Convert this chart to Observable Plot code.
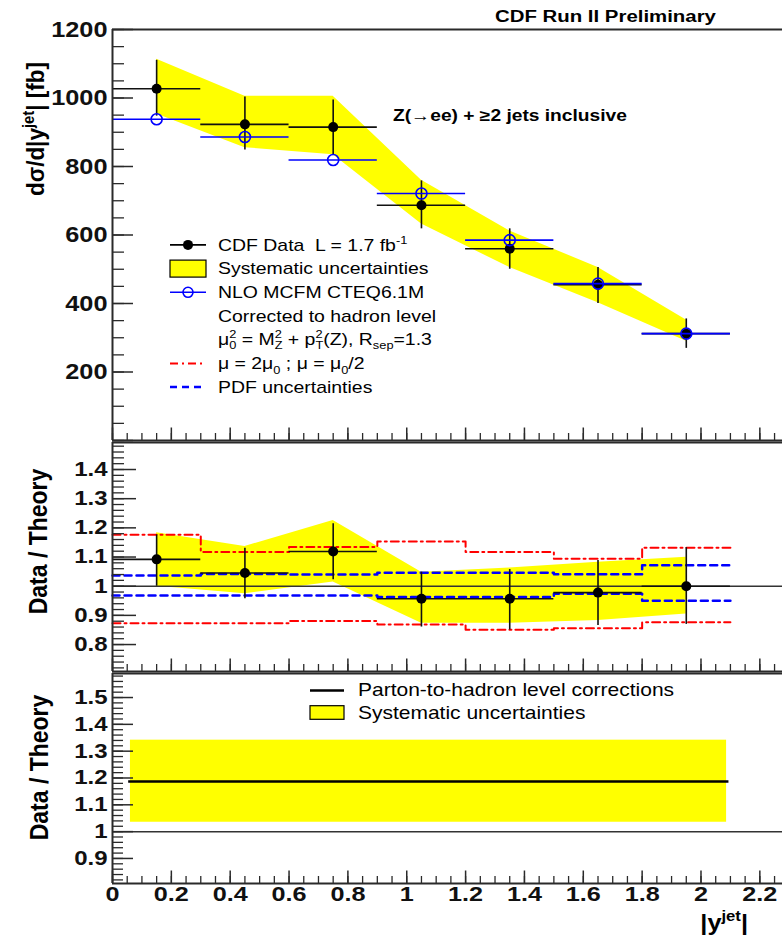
<!DOCTYPE html>
<html>
<head>
<meta charset="utf-8">
<script src="https://cdn.jsdelivr.net/npm/d3@7"></script>
<script src="https://cdn.jsdelivr.net/npm/@observablehq/plot@0.6"></script>
<style>
  html, body { margin: 0; padding: 0; background: #fff; }
  #chart svg { display: block; }
</style>
</head>
<body>
<div id="chart"></div>
<script>
// ---------------- DATA ----------------
const binEdges = [0, 0.3, 0.6, 0.9, 1.2, 1.5, 1.8, 2.1];
const binCenters = [0.15, 0.45, 0.75, 1.05, 1.35, 1.65, 1.95];

// Top panel: dσ/d|y_jet| [fb]
const cdfData     = [1027, 923, 915, 687, 560, 455, 312];
const cdfErrLow   = [947, 848, 834, 618, 500, 400, 269];
const cdfErrHigh  = [1110, 1003, 994, 758, 618, 505, 355];
const nloMcfm     = [938, 886, 819, 721, 585, 458, 312];
const sysLow      = [953, 855, 834, 632, 505, 402, 290];
const sysHigh     = [1113, 1005, 1005, 760, 612, 505, 352];

// Middle panel: Data / Theory
const ratio        = [1.092, 1.045, 1.119, 0.957, 0.957, 0.978, 1.0];
const ratioErrLow  = [1.0, 0.957, 1.022, 0.86, 0.85, 0.865, 0.869];
const ratioErrHigh = [1.176, 1.13, 1.214, 1.048, 1.057, 1.088, 1.132];
const ratioSysLow  = [1.0, 0.974, 1.014, 0.873, 0.873, 0.882, 0.905];
const ratioSysHigh = [1.183, 1.136, 1.225, 1.048, 1.062, 1.082, 1.099];
const scaleUp   = [1.176, 1.117, 1.134, 1.153, 1.117, 1.094, 1.132];
const scaleDown = [0.873, 0.873, 0.881, 0.869, 0.851, 0.856, 0.876];
const pdfUp     = [1.037, 1.042, 1.040, 1.046, 1.046, 1.041, 1.072];
const pdfDown   = [0.968, 0.968, 0.968, 0.963, 0.963, 0.974, 0.950];

// Bottom panel: parton-to-hadron corrections
const hadronCorr = [1.187];
const hadronCorrRange = [0.055, 2.095];
const hadronSys = [1.035, 1.341];
const hadronSysRange = [0.061, 2.087];

// Ticks
const xDomain = [0, 2.277];
const xMajorTicks = [0, 0.2, 0.4, 0.6, 0.8, 1, 1.2, 1.4, 1.6, 1.8, 2, 2.2];
const xMinorTicks = d3.range(0, 46).map(i => +(i * 0.05).toFixed(2));
const topYDomain = [0, 1200];
const topYMajor = [0, 200, 400, 600, 800, 1000, 1200];
const topYLabels = [200, 400, 600, 800, 1000, 1200];
const topYMinor = d3.range(0, 25).map(i => i * 50);
const midYDomain = [0.7076, 1.4926];
const midYLabels = [0.8, 0.9, 1, 1.1, 1.2, 1.3, 1.4];
const midYMinor = d3.range(36, 75).map(i => +(i * 0.02).toFixed(2));
const botYDomain = [0.8066, 1.5896];
const botYLabels = [0.9, 1, 1.1, 1.2, 1.3, 1.4, 1.5];
const botYMinor = d3.range(41, 80).map(i => +(i * 0.02).toFixed(2));

// ---------------- LAYOUT ----------------
const W = 782, H = 935, ML = 112;
const FW = W - ML;
const AX = "#2a2a2a";
const fmt = d => String(+(+d).toFixed(2));

function inDom(arr, dom) { return arr.filter(v => v >= dom[0] - 1e-9 && v <= dom[1] + 1e-9); }

function frameMarks({yDom, yMajor, yMinor, yLabels, frameH, labelSize, majorLen, minorLen}) {
  return [
    Plot.tickY(inDom(yMinor, yDom), {y: d => d, insetRight: FW - minorLen, stroke: AX, strokeWidth: 1.3}),
    Plot.tickY(inDom(yMajor, yDom), {y: d => d, insetRight: FW - majorLen, stroke: AX, strokeWidth: 1.5}),
    Plot.tickX(inDom(xMinorTicks, xDomain), {x: d => d, insetTop: frameH - 7, stroke: AX, strokeWidth: 1.3}),
    Plot.tickX(xMajorTicks, {x: d => d, insetTop: frameH - 12.5, stroke: AX, strokeWidth: 1.5}),
    Plot.ruleX([0], {stroke: AX, strokeWidth: 2}),
    Plot.ruleY([yDom[0]], {stroke: AX, strokeWidth: 1.8}),
    Plot.ruleY([yDom[1]], {stroke: AX, strokeWidth: 1.8}),
    Plot.axisY({ticks: yLabels, tickSize: 0, tickPadding: 5, tickFormat: fmt, label: null,
                fontSize: labelSize, fontWeight: "bold", fill: "#111"})
  ];
}

// ---------------- TOP PANEL ----------------
const topRows = binCenters.map((c, i) => ({
  c, lo: binEdges[i], hi: binEdges[i + 1],
  data: cdfData[i], eLo: cdfErrLow[i], eHi: cdfErrHigh[i],
  nlo: nloMcfm[i], sLo: sysLow[i], sHi: sysHigh[i]
}));

const p1 = Plot.plot({
  width: W, height: 442, marginLeft: ML, marginRight: 0, marginTop: 29, marginBottom: 2,
  x: {domain: xDomain, axis: null},
  y: {domain: topYDomain, axis: null},
  marks: [
    Plot.areaY(topRows, {x: "c", y1: "sLo", y2: "sHi", fill: "#ffff00"}),
    Plot.ruleY(topRows, {y: "data", x1: "lo", x2: "hi", stroke: "#111", strokeWidth: 1.6}),
    Plot.ruleX(topRows, {x: "c", y1: "eLo", y2: "eHi", stroke: "#111", strokeWidth: 1.6}),
    Plot.dot(topRows, {x: "c", y: "data", r: 5, fill: "#000"}),
    Plot.ruleY(topRows, {y: "nlo", x1: "lo", x2: "hi", stroke: "#0000ff", strokeWidth: 1.6}),
    Plot.dot(topRows, {x: "c", y: "nlo", r: 5.5, stroke: "#0000ff", strokeWidth: 1.6, fill: "none"}),
    ...frameMarks({yDom: topYDomain, yMajor: topYMajor, yMinor: topYMinor, yLabels: topYLabels,
                   frameH: 411, labelSize: 22, majorLen: 21, minorLen: 12})
  ]
});

// ---------------- MIDDLE PANEL ----------------
const midRows = binCenters.map((c, i) => ({
  c, lo: binEdges[i], hi: binEdges[i + 1],
  r: ratio[i], eLo: ratioErrLow[i], eHi: ratioErrHigh[i],
  sLo: ratioSysLow[i], sHi: ratioSysHigh[i]
}));
const stepRows = binEdges.map((x, i) => {
  const k = Math.min(i, binCenters.length - 1);
  return {x, up: scaleUp[k], dn: scaleDown[k], pu: pdfUp[k], pd: pdfDown[k]};
});
const redDash = "8,4,2,4", blueDash = "7,5";

const p2 = Plot.plot({
  width: W, height: 233, marginLeft: ML, marginRight: 0, marginTop: 2, marginBottom: 2,
  x: {domain: xDomain, axis: null},
  y: {domain: midYDomain, axis: null},
  marks: [
    Plot.areaY(midRows, {x: "c", y1: "sLo", y2: "sHi", fill: "#ffff00"}),
    Plot.ruleY([1], {stroke: "#333", strokeWidth: 1.5}),
    Plot.line(stepRows, {x: "x", y: "up", curve: "step-after", stroke: "#ff0000", strokeWidth: 2, strokeDasharray: redDash}),
    Plot.line(stepRows, {x: "x", y: "dn", curve: "step-after", stroke: "#ff0000", strokeWidth: 2, strokeDasharray: redDash}),
    Plot.line(stepRows, {x: "x", y: "pu", curve: "step-after", stroke: "#0000ff", strokeWidth: 2.5, strokeDasharray: blueDash}),
    Plot.line(stepRows, {x: "x", y: "pd", curve: "step-after", stroke: "#0000ff", strokeWidth: 2.5, strokeDasharray: blueDash}),
    Plot.ruleY(midRows, {y: "r", x1: "lo", x2: "hi", stroke: "#111", strokeWidth: 1.6}),
    Plot.ruleX(midRows, {x: "c", y1: "eLo", y2: "eHi", stroke: "#111", strokeWidth: 1.6}),
    Plot.dot(midRows, {x: "c", y: "r", r: 5, fill: "#000"}),
    ...frameMarks({yDom: midYDomain, yMajor: midYLabels, yMinor: midYMinor, yLabels: midYLabels,
                   frameH: 229, labelSize: 20, majorLen: 24, minorLen: 12})
  ]
});

// ---------------- BOTTOM PANEL ----------------
const p3 = Plot.plot({
  width: W, height: 264, marginLeft: ML, marginRight: 0, marginTop: 2, marginBottom: 52,
  x: {domain: xDomain},
  y: {domain: botYDomain, axis: null},
  marks: [
    Plot.rect([{x1: hadronSysRange[0], x2: hadronSysRange[1], y1: hadronSys[0], y2: hadronSys[1]}],
              {x1: "x1", x2: "x2", y1: "y1", y2: "y2", fill: "#ffff00"}),
    Plot.ruleY([1], {stroke: "#333", strokeWidth: 1.5}),
    Plot.ruleY(hadronCorr.map(v => ({v, x1: hadronCorrRange[0], x2: hadronCorrRange[1]})),
               {y: "v", x1: "x1", x2: "x2", stroke: "#000", strokeWidth: 2.5}),
    ...frameMarks({yDom: botYDomain, yMajor: botYLabels, yMinor: botYMinor, yLabels: botYLabels,
                   frameH: 210, labelSize: 20, majorLen: 21, minorLen: 11}),
    Plot.axisX({ticks: xMajorTicks, tickSize: 0, tickPadding: 3, tickFormat: fmt, label: null,
                fontSize: 21, fontWeight: "bold", fill: "#111"})
  ]
});

// ---------------- ASSEMBLE ONE SVG ----------------
const outer = d3.create("svg")
  .attr("width", W).attr("height", H).attr("viewBox", `0 0 ${W} ${H}`)
  .attr("font-family", '"Liberation Sans", Arial, Helvetica, sans-serif')
  .style("background", "#fff");
document.getElementById("chart").appendChild(outer.node());
outer.append("rect").attr("width", W).attr("height", H).attr("fill", "#fff");

function embed(plotSvg, y, sx) {
  plotSvg.querySelectorAll('g[aria-label$="tick label"] text').forEach(t => {
    const tr = t.getAttribute("transform");
    if (tr) t.setAttribute("transform", tr + ` scale(${sx},1)`);
    t.setAttribute("font-weight", "bold");
  });
  const g = document.createElementNS("http://www.w3.org/2000/svg", "g");
  for (const a of ["class", "fill", "font-size", "text-anchor"]) {
    if (plotSvg.getAttribute(a) != null) g.setAttribute(a, plotSvg.getAttribute(a));
  }
  g.setAttribute("transform", `translate(0,${y})`);
  while (plotSvg.firstChild) g.appendChild(plotSvg.firstChild);
  outer.node().appendChild(g);
}
embed(p1, 0, 1.15);
embed(p2, 440, 1.2);
embed(p3, 671, 1.2);

// ---------------- RICH TEXT ----------------
function addText({x, y, size, weight = "normal", anchor = "start", sx = 1.2, rotate = 0, segs, fill = "#000"}) {
  const t = outer.append("text")
    .attr("transform", rotate ? `translate(${x},${y}) rotate(${rotate}) scale(1,${sx})`
                              : `translate(${x},${y}) scale(${sx},1)`)
    .attr("font-size", size).attr("font-weight", weight)
    .attr("text-anchor", anchor).attr("fill", fill);
  let shift = 0, lastSub = null, pendingDx = 0;
  for (const s of segs) {
    const [str, kind] = typeof s === "string" ? [s, "n"] : s;
    const ts = t.append("tspan").text(str);
    let target = 0, fs = size;
    if (kind === "sub") { target = 0.3 * size; fs = 0.66 * size; }
    else if (kind === "sup" || kind === "supStack") { target = -0.42 * size; fs = 0.66 * size; }
    ts.attr("font-size", fs);
    if (target - shift !== 0) ts.attr("dy", +(target - shift).toFixed(2));
    let dx = pendingDx; pendingDx = 0;
    if (kind === "supStack" && lastSub) {
      const subW = lastSub.node().getComputedTextLength();
      dx -= subW;
      const supW = ts.node().getComputedTextLength();
      if (subW > supW) pendingDx = subW - supW;
    }
    if (dx) ts.attr("dx", +dx.toFixed(2));
    lastSub = kind === "sub" ? ts : null;
    shift = target;
  }
  return t;
}

// Titles
addText({x: 495, y: 21.5, size: 17, weight: "bold", segs: ["CDF Run II Preliminary"]});
addText({x: 393, y: 120.5, size: 16, weight: "bold", segs: ["Z(\u2192ee) + \u22652 jets inclusive"]});

// Axis titles
addText({x: 44, y: 129, size: 22.5, weight: "bold", anchor: "middle", rotate: -90, sx: 1.1,
         segs: ["d\u03c3/d|y", ["jet", "sup"], "| [fb]"]});
addText({x: 47, y: 541.5, size: 23, weight: "bold", anchor: "middle", rotate: -90, sx: 1.1,
         segs: ["Data / Theory"]});
addText({x: 48, y: 767.5, size: 23, weight: "bold", anchor: "middle", rotate: -90, sx: 1.1,
         segs: ["Data / Theory"]});
addText({x: 748, y: 930, size: 22, weight: "bold", anchor: "end", sx: 1.15,
         segs: ["|y", ["jet", "sup"], "|"]});

// ---------------- TOP LEGEND ----------------
const LX = 218, SX1 = 170, SX2 = 206, SXC = 188;
const base = i => 250.7 + 23.7 * i;
const ctr = i => base(i) - 5.8;
const legTop = outer.append("g");
// CDF data
legTop.append("line").attr("x1", SX1).attr("x2", SX2).attr("y1", ctr(0)).attr("y2", ctr(0)).attr("stroke", "#000").attr("stroke-width", 1.6);
legTop.append("circle").attr("cx", SXC).attr("cy", ctr(0)).attr("r", 5).attr("fill", "#000");
// Systematic box
legTop.append("rect").attr("x", SX1).attr("y", ctr(1) - 8.5).attr("width", SX2 - SX1).attr("height", 17)
  .attr("fill", "#ffff00").attr("stroke", "#000").attr("stroke-width", 1.2);
// NLO
legTop.append("line").attr("x1", SX1).attr("x2", SX2).attr("y1", ctr(2)).attr("y2", ctr(2)).attr("stroke", "#0000ff").attr("stroke-width", 1.6);
legTop.append("circle").attr("cx", SXC).attr("cy", ctr(2)).attr("r", 5).attr("fill", "none").attr("stroke", "#0000ff").attr("stroke-width", 1.6);
// scale
legTop.append("line").attr("x1", SX1).attr("x2", SX2).attr("y1", ctr(5)).attr("y2", ctr(5)).attr("stroke", "#ff0000").attr("stroke-width", 2).attr("stroke-dasharray", redDash);
// pdf
legTop.append("line").attr("x1", SX1).attr("x2", SX2).attr("y1", ctr(6)).attr("y2", ctr(6)).attr("stroke", "#0000ff").attr("stroke-width", 2.5).attr("stroke-dasharray", blueDash);

const LS = 16.2;
addText({x: LX, y: base(0), size: LS, segs: ["CDF Data\u00a0\u00a0L = 1.7 fb", ["-1", "sup"]]});
addText({x: LX, y: base(1), size: LS, segs: ["Systematic uncertainties"]});
addText({x: LX, y: base(2), size: LS, segs: ["NLO MCFM CTEQ6.1M"]});
addText({x: LX, y: base(3), size: LS, segs: ["Corrected to hadron level"]});
addText({x: LX, y: base(4) - 1, size: LS, segs: ["\u03bc", ["0", "sub"], ["2", "supStack"], " = M", ["Z", "sub"], ["2", "supStack"],
                                           " + p", ["T", "sub"], ["2", "supStack"], "(Z), R", ["sep", "sub"], "=1.3"]});
addText({x: LX, y: base(5), size: LS, segs: ["\u03bc = 2\u03bc", ["0", "sub"], " ; \u03bc = \u03bc", ["0", "sub"], "/2"]});
addText({x: LX, y: base(6), size: LS, segs: ["PDF uncertainties"]});

// ---------------- BOTTOM LEGEND ----------------
outer.append("line").attr("x1", 310).attr("x2", 344).attr("y1", 690.5).attr("y2", 690.5).attr("stroke", "#000").attr("stroke-width", 2.5);
outer.append("rect").attr("x", 310).attr("y", 705.7).attr("width", 34).attr("height", 13.6)
  .attr("fill", "#ffff00").attr("stroke", "#000").attr("stroke-width", 1.2);
addText({x: 358, y: 695.5, size: 17.5, segs: ["Parton-to-hadron level corrections"]});
addText({x: 358, y: 719, size: 17.5, segs: ["Systematic uncertainties"]});
</script>
</body>
</html>
